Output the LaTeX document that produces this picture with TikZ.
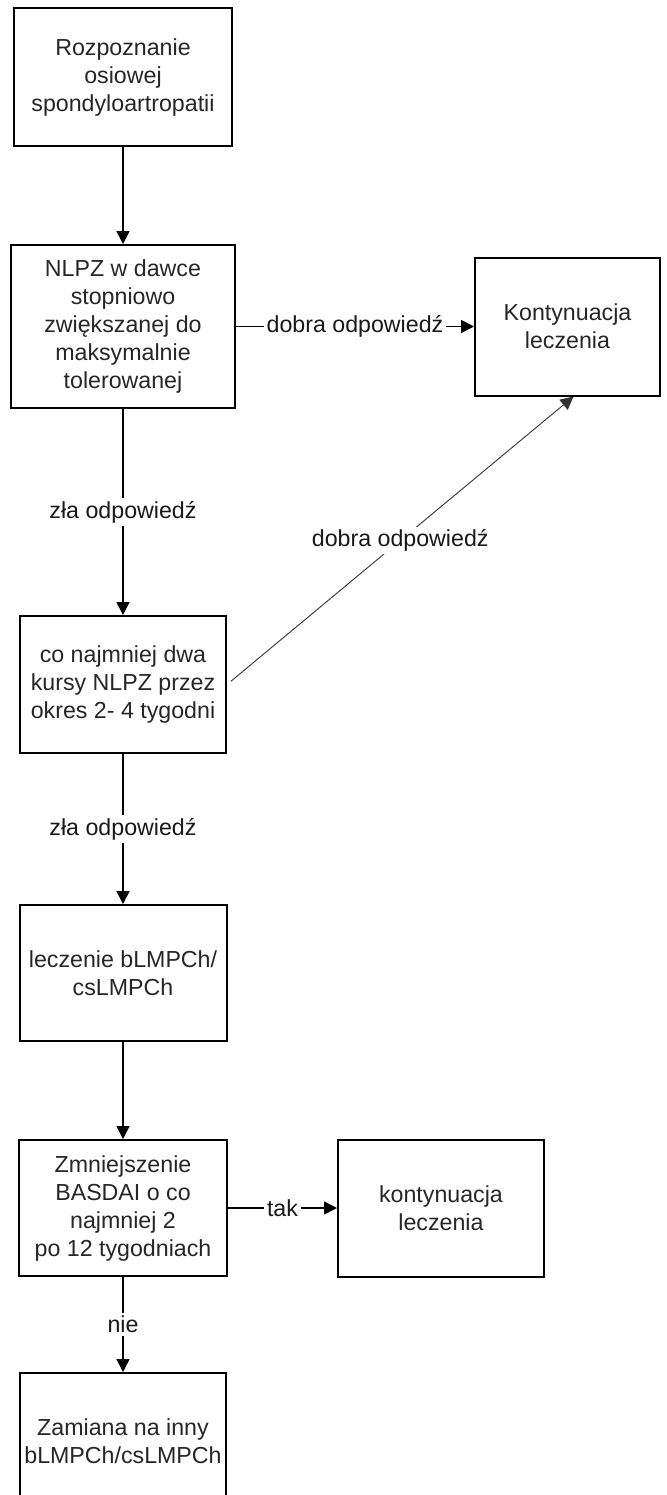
\documentclass[tikz,border=0pt]{standalone}
\usepackage{fontspec}
\setmainfont{Liberation Sans}
\usepackage{tikz}
\usetikzlibrary{arrows.meta,positioning}
\newcommand{\flowfont}{\fontsize{11.6}{14}\selectfont}

\begin{document}
\begin{tikzpicture}[
  x=1pt,y=1pt,
  box/.style={draw,line width=1pt,align=center,inner sep=2pt,font=\flowfont,text=black!85},
  lbl/.style={fill=white,inner sep=1.5pt,font=\flowfont,text=black!90},
  arr/.style={-{Triangle[length=6.5pt,width=6.5pt]},line width=0.75pt}
]
\useasboundingbox (0,0) rectangle (333.5,-747.5);
\clip (0,0) rectangle (333.5,-747.5);

\node[box,minimum width=109pt,minimum height=69pt] (rozp) at (61.5,-38.5) {Rozpoznanie\\osiowej\\spondyloartropatii};
\node[box,below=48.5pt of rozp,minimum width=112pt,minimum height=81.5pt] (nlpz) {NLPZ w dawce\\stopniowo\\zwiększanej do\\maksymalnie\\tolerowanej};
\node[box,right=119pt of nlpz,minimum width=92.5pt,minimum height=69pt] (kont) {Kontynuacja\\leczenia};
\node[box,below=103pt of nlpz,minimum width=103pt,minimum height=68.5pt] (kursy) {co najmniej dwa\\kursy NLPZ przez\\okres 2- 4 tygodni};
\node[box,below=75pt of kursy,minimum width=103.5pt,minimum height=68pt] (lecz) {leczenie bLMPCh/\\csLMPCh};
\node[box,below=48.5pt of lecz,minimum width=104pt,minimum height=68pt] (basdai) {Zmniejszenie\\BASDAI o co\\najmniej 2\\po 12 tygodniach};
\node[box,right=54.5pt of basdai,minimum width=103pt,minimum height=68.5pt] (kont2) {kontynuacja\\leczenia};
\node[box,below=47.5pt of basdai,minimum width=103pt,minimum height=68.5pt] (zam) {Zamiana na inny\\bLMPCh/csLMPCh};

\draw[arr] (rozp) -- (nlpz);
\draw[arr] (nlpz) -- node[lbl] {dobra odpowiedź} (kont);
\draw[arr] (nlpz) -- node[lbl] {zła odpowiedź} (kursy);
\draw[arr,line width=0.45pt,black!80,shorten <=2.5pt] (kursy.east) -- node[lbl] {dobra odpowiedź} ([xshift=3pt]kont.south);
\draw[arr] (kursy) -- node[lbl] {zła odpowiedź} (lecz);
\draw[arr] (lecz) -- (basdai);
\draw[arr] (basdai) -- node[lbl] {tak} (kont2);
\draw[arr] (basdai) -- node[lbl] {nie} (zam);
\end{tikzpicture}
\end{document}
